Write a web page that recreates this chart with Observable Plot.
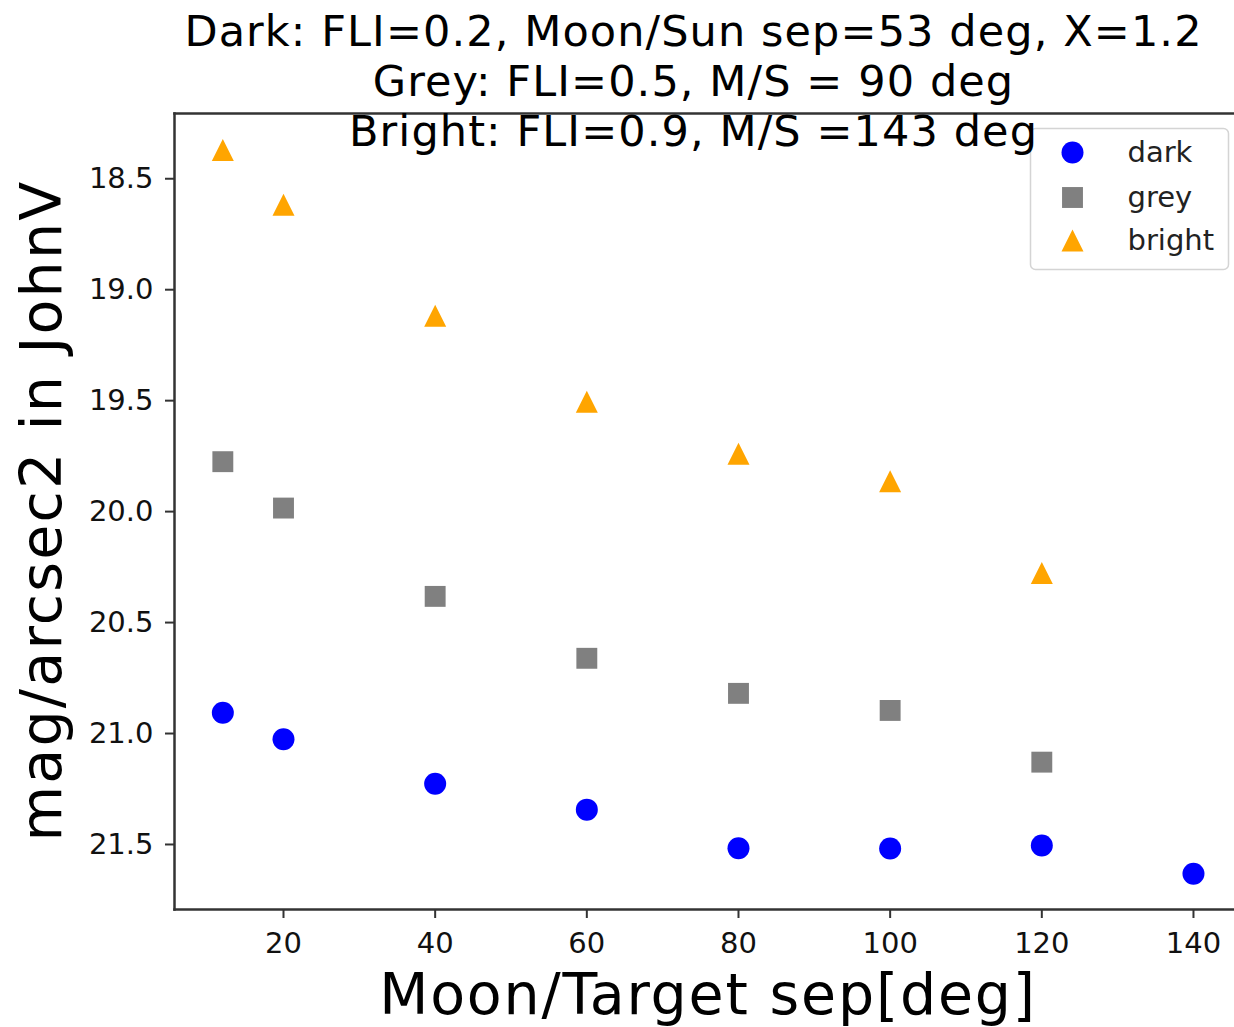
<!DOCTYPE html>
<html>
<head>
<meta charset="utf-8">
<script src="https://cdn.jsdelivr.net/npm/d3@7"></script>
<script src="https://cdn.jsdelivr.net/npm/@observablehq/plot@0.6"></script>
<style>
  html, body { margin: 0; padding: 0; background: #fff; }
  #chart { width: 1234px; height: 1027px; overflow: hidden; }
</style>
</head>
<body>
<div id="chart"></div>
<script>
// ---- data ----
const sepDark   = [12, 20, 40, 60, 80, 100, 120, 140];
const magDark   = [20.906, 21.026, 21.226, 21.343, 21.517, 21.518, 21.505, 21.632];
const sepGrey   = [12, 20, 40, 60, 80, 100, 120];
const magGrey   = [19.775, 19.984, 20.382, 20.661, 20.819, 20.896, 21.129];
const sepBright = [12, 20, 40, 60, 80, 100, 120];
const magBright = [18.371, 18.617, 19.117, 19.505, 19.739, 19.863, 20.277];

const seriesNames  = ["dark", "grey", "bright"];
const seriesColors = ["#0000ff", "#808080", "#ffa500"];

const xTicks = [20, 40, 60, 80, 100, 120, 140];
const yTicks = [18.5, 19.0, 19.5, 20.0, 20.5, 21.0, 21.5];

const titleLines = [
  "Dark: FLI=0.2, Moon/Sun sep=53 deg, X=1.2",
  "Grey: FLI=0.5, M/S = 90 deg",
  "Bright: FLI=0.9, M/S =143 deg"
];
const xLabel = "Moon/Target sep[deg]";
const yLabel = "mag/arcsec2 in JohnV";

// ---- tables ----
const rows = [
  ...sepDark.map((s, i) => ({series: "dark", sep: s, mag: magDark[i]})),
  ...sepGrey.map((s, i) => ({series: "grey", sep: s, mag: magGrey[i]})),
  ...sepBright.map((s, i) => ({series: "bright", sep: s, mag: magBright[i]}))
];

// ---- marker shapes (matplotlib-like o, s, ^) ----
const circleSym = {draw(ctx, size) { const r = Math.sqrt(size / Math.PI); ctx.moveTo(r, 0); ctx.arc(0, 0, r, 0, 2 * Math.PI); }};
const squareSym = {draw(ctx, size) { const r = Math.sqrt(size / Math.PI) * 0.95; ctx.rect(-r, -r, 2 * r, 2 * r); }};
const triSym    = {draw(ctx, size) { const r = Math.sqrt(size / Math.PI); ctx.moveTo(0, -r); ctx.lineTo(r, r); ctx.lineTo(-r, r); ctx.closePath(); }};
const symbols = [circleSym, squareSym, triSym];

// legend frame: rounded rectangle drawn as a symbol
const legW = 198, legH = 141, legRad = 5;
const legendBoxSym = {draw(ctx) {
  const x0 = -legW / 2, y0 = -legH / 2, x1 = legW / 2, y1 = legH / 2, q = legRad;
  ctx.moveTo(x0 + q, y0);
  ctx.lineTo(x1 - q, y0); ctx.arcTo(x1, y0, x1, y0 + q, q);
  ctx.lineTo(x1, y1 - q); ctx.arcTo(x1, y1, x1 - q, y1, q);
  ctx.lineTo(x0 + q, y1); ctx.arcTo(x0, y1, x0, y1 - q, q);
  ctx.lineTo(x0, y0 + q); ctx.arcTo(x0, y0, x0 + q, y0, q);
  ctx.closePath();
}};

const spine = "#333333";
const mkR = 11;

const marks = [];

// spines
marks.push(Plot.frame({anchor: "left", stroke: spine, strokeWidth: 2.5}));
marks.push(Plot.frame({anchor: "top", stroke: spine, strokeWidth: 2.5}));
marks.push(Plot.frame({anchor: "bottom", stroke: spine, strokeWidth: 2.5}));

// axes
marks.push(Plot.axisX({ticks: xTicks, tickSize: 9, tickPadding: 14, fontSize: 29, label: null, stroke: spine, strokeWidth: 2, fill: "#111", tickFormat: d3.format("d")}));
marks.push(Plot.axisY({ticks: yTicks, tickSize: 9, tickPadding: 12, fontSize: 29, label: null, stroke: spine, strokeWidth: 2, fill: "#111", tickFormat: d3.format(".1f")}));

// points
seriesNames.forEach((name, k) => {
  marks.push(Plot.dot(rows.filter(d => d.series === name), {
    x: "sep", y: "mag", r: mkR, symbol: symbols[k], fill: seriesColors[k], stroke: "none"
  }));
});

// axis labels
marks.push(Plot.text([xLabel], {text: d => d, frameAnchor: "bottom", dx: 3.5, dy: 104, lineAnchor: "bottom", textAnchor: "middle", fontSize: 57, fill: "#000"}));
marks.push(Plot.text([yLabel], {text: d => d, frameAnchor: "left", dx: -114, dy: -1, rotate: -90, lineAnchor: "bottom", textAnchor: "middle", fontSize: 57, fill: "#000"}));

// legend
marks.push(Plot.dot(["legend"], {frameAnchor: "top-right", dx: -105, dy: 85.5, r: 1, symbol: legendBoxSym, fill: "rgba(255,255,255,0.8)", stroke: "#d4d4d4", strokeWidth: 1.5}));
const legDy = [39, 84, 127];
seriesNames.forEach((name, k) => {
  marks.push(Plot.dot([name], {frameAnchor: "top-right", dx: -162, dy: legDy[k], r: mkR, symbol: symbols[k], fill: seriesColors[k], stroke: "none"}));
  marks.push(Plot.text([name], {text: d => d, frameAnchor: "top-right", dx: -107, dy: legDy[k], textAnchor: "start", lineAnchor: "middle", fontSize: 29, fill: "#222"}));
});

// title lines (drawn last, on top of the frame and legend)
const titleDy = [-68, -18, 32];
titleLines.forEach((t, i) => {
  marks.push(Plot.text([t], {text: d => d, frameAnchor: "top", dx: -11, dy: titleDy[i], lineAnchor: "bottom", textAnchor: "middle", fontSize: 43, fill: "#000"}));
});

const plot = Plot.plot({
  width: 1234,
  height: 1027,
  marginLeft: 174,
  marginRight: 0,
  marginTop: 113,
  marginBottom: 118,
  style: {fontFamily: "DejaVu Sans", background: "#fff", overflow: "visible"},
  x: {domain: [5.626, 145.41]},
  y: {domain: [18.206, 21.793], reverse: true},
  marks
});

document.getElementById("chart").appendChild(plot);

// slightly wider letter spacing to match the reference's glyph advances
const spacing = new Map([[titleLines[0], 1.1], [titleLines[1], 1.1], [titleLines[2], 1.1], [xLabel, 1.8], [yLabel, 2.2]]);
d3.select(plot).selectAll("text").each(function() {
  const s = spacing.get(this.textContent);
  if (s !== undefined) this.setAttribute("letter-spacing", s);
});
</script>
</body>
</html>
